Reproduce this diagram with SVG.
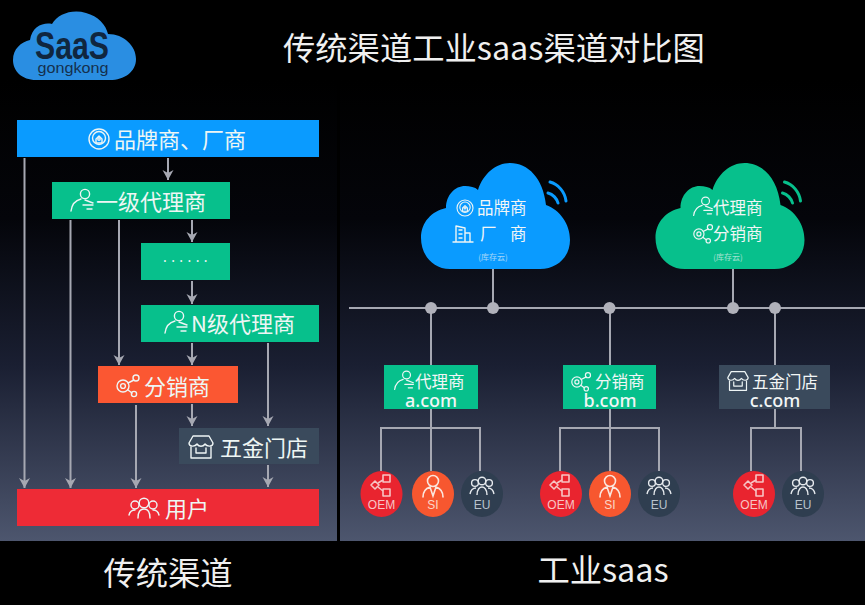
<svg xmlns="http://www.w3.org/2000/svg" width="865" height="605" viewBox="0 0 865 605">
<style>
text{font-family:"Noto Sans CJK SC","Noto Sans",sans-serif;fill:#f2f6f6;dominant-baseline:central}
.m{text-anchor:middle}
.t{font-size:32.3px;font-weight:400;fill:#f0f0f0}
.n{font-size:22px;font-weight:400;fill:#eef6f4}
.c{font-size:16.5px}
.u{font-size:8px;opacity:.65;text-anchor:middle}
.d{font-size:18px;font-weight:500;font-family:"Noto Sans",sans-serif;text-anchor:middle}
.s{font-family:"Liberation Sans",sans-serif;font-size:12px;text-anchor:middle}
.ln{fill:none;stroke:#a6a8b2;stroke-width:2}
.ar{fill:none;stroke:#a6a8b2;stroke-width:2;marker-end:url(#ah)}
.ic{fill:none;stroke:#eef5f5;stroke-width:1.4;stroke-linecap:round;stroke-linejoin:round}
.dot{fill:#b0b1ba}
</style>
<defs>
<linearGradient id="bg" x1="0" y1="0" x2="0" y2="1">
<stop offset="0" stop-color="#000"/><stop offset=".3" stop-color="#04050a"/><stop offset=".62" stop-color="#1a1f32"/><stop offset="1" stop-color="#4d566e"/>
</linearGradient>
<marker id="ah" markerUnits="userSpaceOnUse" markerWidth="10" markerHeight="12" refX="10" refY="6" orient="auto" viewBox="0 0 10 12"><path d="M0 0.500L3 6L0 11.500L10 6Z" fill="#a6a8b2"/></marker>
<path id="cloud" d="M450 269C432 269 421 254 421 238C421 222 432 211 446 208C446 195 455 186 465 186C470 186 475 187 478 190C483 174 496 163 510 163C528 163 543 178 546 205C560 210 570 224 570 240C570 256 558 269 540 269Z"/>
<g id="wave" fill="none" stroke-width="3" stroke-linecap="round"><path d="M548 193C553 194 557 199 558 203"/><path d="M550 182C558 184 565 192 566 201"/></g>
<g id="i-brand" class="ic"><circle r="10"/><circle cy="-1" r="6.5"/><path d="M-3 4V0L0-3L3 0V4Z"/><circle cy="0" r="1.2"/></g>
<g id="i-agent" class="ic"><circle cx="3" cy="-7" r="4.6"/><path d="M-11 10C-10 2-5-1-1-2"/><path d="M3-1L11 2M1 4H11M5 8H10"/></g>
<g id="i-hub" class="ic"><circle cx="-6" cy="0" r="6"/><circle cx="-6" cy="0" r="2.4"/><circle cx="7" cy="-8" r="3"/><circle cx="5" cy="8" r="2.6"/><path d="M-1-3L5-6M-1 4L3 7"/></g>
<g id="i-store" class="ic"><path d="M-8-11H8L12-4C12 0 6 0 4-3C2 0-2 0-4-3C-6 0-12 0-12-4Z"/><path d="M-10 0V11H10V0"/><path d="M-5 1V6H5V1"/></g>
<g id="i-people" class="ic"><circle cy="-5" r="4.8"/><circle cx="-9" cy="-3" r="4"/><circle cx="9" cy="-3" r="4"/><path d="M-6 10C-6 3-3 1 0 1C3 1 6 3 6 10"/><path d="M-15 7C-14 3-12 2-9 2M15 7C14 3 12 2 9 2"/></g>
<g id="i-build" class="ic"><path d="M-7 8V-8L2-6V8M2-1H7V8M-10 8H10M-4-4H-1M-4 0H-1M-4 4H-1"/></g>
<g id="i-oem" fill="none" stroke="#f7c4c4" stroke-width="1.6" stroke-linejoin="round"><rect x="1" y="-12" width="7" height="7"/><rect x="1" y="2" width="7" height="7"/><path d="M-11-2L-7-6L-3-2L-7 2Z"/><path d="M-4-4L1-7M-4 0L1 4"/></g>
<g id="i-si" fill="none" stroke="#fbe6dd" stroke-width="1.6" stroke-linecap="round"><circle cy="-6" r="5.5"/><path d="M-10 10C-10 3-6 1-3 0L0 9L3 0C6 1 10 3 10 10"/></g>
<g id="i-eu" fill="none" stroke="#e6eaee" stroke-width="1.4"><circle cy="-6" r="3.8"/><circle cx="-7" cy="-4" r="3.4"/><circle cx="7" cy="-4" r="3.4"/><path d="M-5 8C-5 2-2 0 0 0C2 0 5 2 5 8M-12 7C-11 2-9 1-6 1M12 7C11 2 9 1 6 1"/></g>
</defs>
<rect width="865" height="605" fill="#000"/>
<rect x="0" y="80" width="337" height="461" fill="url(#bg)"/>
<rect x="340" y="80" width="525" height="461" fill="url(#bg)"/>

<g id="logo">
<path d="M36 80C22 80 13 71 13 60C13 49 21 42 30 40C32 26 44 22 52 24C58 14 72 9 86 13C98 16 106 25 108 34C124 34 136 46 136 59C136 72 124 80 110 80Z" fill="#2a8ee2"/>
<text x="72" y="46" class="m" style="font-family:'Liberation Sans',sans-serif;font-size:38px;font-weight:700;fill:#10263f" textLength="74" lengthAdjust="spacingAndGlyphs">SaaS</text>
<text x="73" y="68" class="m" style="font-family:'Liberation Sans',sans-serif;font-size:14px;fill:#15304d" textLength="71" lengthAdjust="spacingAndGlyphs">gongkong</text>
</g>
<text id="title" x="283" y="46" class="t">传统渠道工业saas渠道对比图</text>
<text id="label-left" x="168" y="571" class="t m">传统渠道</text>
<text id="label-right" x="603" y="568" class="t m">工业saas</text>

<g id="connectors">
<path class="ar" d="M24.500 158V488"/><path class="ar" d="M70.500 220V488"/><path class="ar" d="M119 220V365"/><path class="ar" d="M168 158V180"/>
<path class="ar" d="M192 220V242"/><path class="ar" d="M192 281V304"/><path class="ar" d="M192 343V365"/><path class="ar" d="M192 404V426"/>
<path class="ar" d="M268 343V426"/><path class="ar" d="M136 405V488"/><path class="ar" d="M268 465V487"/>
<path class="ln" d="M349 308H865M493 269V308M733 269V308M431 308V365M610 308V365M775 308V365"/>
<path class="ln" d="M431 409V471M381 471V428H480V471M610 409V471M560 471V428H659V471M775 409V428M751 471V428H801V471"/>
<circle class="dot" cx="431" cy="308" r="6"/><circle class="dot" cx="493" cy="308" r="6"/><circle class="dot" cx="609.500" cy="308" r="6"/><circle class="dot" cx="733" cy="308" r="6"/><circle class="dot" cx="775" cy="308" r="6"/>
</g>

<g id="n-brand"><rect x="17" y="120" width="302" height="37" fill="#0a9bff"/><use href="#i-brand" x="99" y="139"/><text x="114" y="137.500" class="n">品牌商、厂商</text></g>
<g id="n-level1"><rect x="52" y="182" width="178" height="37" fill="#07c08c"/><use href="#i-agent" x="82" y="201"/><text x="96" y="199.500" class="n">一级代理商</text></g>
<g id="n-dots"><rect x="141" y="243" width="89" height="37" fill="#07c08c"/><text x="187.500" y="256" class="m" style="font-size:14px;letter-spacing:4.400px;font-family:'Noto Sans',sans-serif">......</text></g>
<g id="n-levelN"><rect x="141" y="305" width="178" height="37" fill="#07c08c"/><use href="#i-agent" x="176" y="323"/><text x="191" y="321.500" class="n">N级代理商</text></g>
<g id="n-dist"><rect x="98" y="366" width="140" height="37" fill="#fb5732"/><use href="#i-hub" x="129" y="386"/><text x="144" y="384.500" class="n">分销商</text></g>
<g id="n-store"><rect x="179" y="428" width="140" height="36" fill="#3a4a5c"/><use href="#i-store" x="201" y="447"/><text x="220" y="445.500" class="n">五金门店</text></g>
<g id="n-user"><rect x="17" y="489" width="302" height="37" fill="#ee2b36"/><use href="#i-people" x="144" y="508"/><text x="165" y="506.500" class="n">用户</text></g>

<g id="n-cloud-blue"><use href="#cloud" fill="#0a9bff"/><use href="#wave" stroke="#0a9bff"/><use href="#i-brand" transform="translate(465 208) scale(.8)"/><use href="#i-build" x="463" y="234"/><text x="477" y="207" class="c">品牌商</text><text x="480" y="233" class="c">厂</text><text x="510" y="233" class="c">商</text><text x="493" y="256" class="u">(库存云)</text></g>
<g id="n-cloud-green"><use href="#cloud" x="234.500" fill="#07c08c"/><use href="#wave" x="234.500" stroke="#07c08c"/><use href="#i-agent" transform="translate(703 207) scale(.85)"/><use href="#i-hub" transform="translate(704 234) scale(.85)"/><text x="713" y="207" class="c">代理商</text><text x="713" y="233" class="c">分销商</text><text x="728" y="256" class="u">(库存云)</text></g>

<g id="n-a"><rect x="384" y="365" width="94" height="44" fill="#07c08c"/><use href="#i-agent" transform="translate(404 381) scale(.85)"/><text x="415" y="380.500" class="c">代理商</text><text x="431" y="399.500" class="d">a.com</text></g>
<g id="n-b"><rect x="563" y="365" width="93" height="44" fill="#07c08c"/><use href="#i-hub" transform="translate(582 382) scale(.85)"/><text x="595" y="380.500" class="c">分销商</text><text x="610" y="399.500" class="d">b.com</text></g>
<g id="n-c"><rect x="719" y="365" width="111" height="44" fill="#3a4a5c"/><use href="#i-store" transform="translate(738 381) scale(.85)"/><text x="752" y="380.500" class="c">五金门店</text><text x="775" y="399.500" class="d">c.com</text></g>

<g id="a-oem"><ellipse cx="381.500" cy="494" rx="21" ry="23" fill="#e9242f"/><use href="#i-oem" x="382" y="487"/><text x="381.500" y="504.500" class="s" style="fill:#f7c4c4">OEM</text></g>
<g id="a-si"><ellipse cx="433" cy="494" rx="21" ry="23" fill="#f7572f"/><use href="#i-si" x="433" y="487"/><text x="433" y="504.500" class="s" style="fill:#fbd6c8">SI</text></g>
<g id="a-eu"><ellipse cx="482" cy="494" rx="21" ry="23" fill="#2f3e50"/><use href="#i-eu" x="482" y="487"/><text x="482" y="504.500" class="s" style="fill:#b9c3cd">EU</text></g>
<g id="b-oem"><ellipse cx="561" cy="494" rx="21" ry="23" fill="#e9242f"/><use href="#i-oem" x="561" y="487"/><text x="561" y="504.500" class="s" style="fill:#f7c4c4">OEM</text></g>
<g id="b-si"><ellipse cx="610" cy="494" rx="21" ry="23" fill="#f7572f"/><use href="#i-si" x="610" y="487"/><text x="610" y="504.500" class="s" style="fill:#fbd6c8">SI</text></g>
<g id="b-eu"><ellipse cx="659" cy="494" rx="21" ry="23" fill="#2f3e50"/><use href="#i-eu" x="659" y="487"/><text x="659" y="504.500" class="s" style="fill:#b9c3cd">EU</text></g>
<g id="c-oem"><ellipse cx="754" cy="494" rx="21" ry="23" fill="#e9242f"/><use href="#i-oem" x="755" y="487"/><text x="754" y="504.500" class="s" style="fill:#f7c4c4">OEM</text></g>
<g id="c-eu"><ellipse cx="803" cy="494" rx="21" ry="23" fill="#2f3e50"/><use href="#i-eu" x="803" y="487"/><text x="803" y="504.500" class="s" style="fill:#b9c3cd">EU</text></g>
</svg>
